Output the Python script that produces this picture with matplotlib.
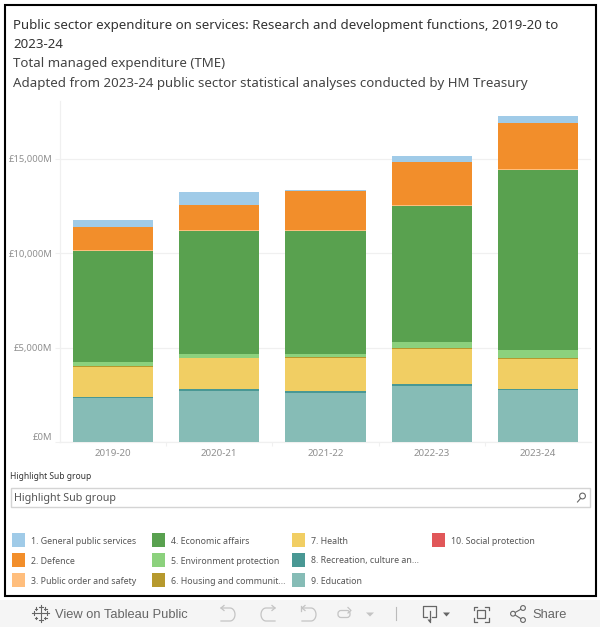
import matplotlib
matplotlib.use('Agg')
import numpy as np
import matplotlib.pyplot as plt
from matplotlib.patches import Rectangle, FancyBboxPatch

# values in GBP millions
years = ['2019-20', '2020-21', '2021-22', '2022-23', '2023-24']
education = [2340, 2690, 2590, 2960, 2750]
recreation = [55, 105, 105, 105, 55]
health = [1590, 1640, 1750, 1870, 1590]
housing = [35, 35, 35, 35, 55]
environment = [210, 175, 175, 320, 430]
economic = [5900, 6520, 6520, 7210, 9540]
public_order = [35, 55, 55, 55, 55]
defence = [1220, 1325, 2065, 2280, 2440]
general = [370, 690, 55, 320, 370]

y_ticks = [0, 5000, 10000, 15000]
y_labels = ['£0M', '£5,000M', '£10,000M', '£15,000M']

series = [
    (education, '#86bcb6'),
    (recreation, '#499894'),
    (health, '#f1ce63'),
    (housing, '#b6992d'),
    (environment, '#8cd17d'),
    (economic, '#59a14f'),
    (public_order, '#ffbe7d'),
    (defence, '#f28e2b'),
    (general, '#a0cbe8'),
]

legend_rows = [
    [('1. General public services', '#a0cbe8'), ('2. Defence', '#f28e2b'), ('3. Public order and safety', '#ffbe7d')],
    [('4. Economic affairs', '#59a14f'), ('5. Environment protection', '#8cd17d'), ('6. Housing and communit...', '#b6992d')],
    [('7. Health', '#f1ce63'), ('8. Recreation, culture an...', '#499894'), ('9. Education', '#86bcb6')],
    [('10. Social protection', '#e15759')],
]

W, H = 600, 627
plt.rcParams['font.family'] = ['Noto Sans', 'DejaVu Sans']
fig = plt.figure(figsize=(W / 100, H / 100), dpi=100, facecolor='white')

# overlay in pixel coordinates for the dashboard furniture
bg = fig.add_axes([0, 0, 1, 1], zorder=0)
bg.set_xlim(0, W)
bg.set_ylim(H, 0)
bg.axis('off')
bg.add_patch(Rectangle((0, 599.5), W, 28, fc='#f5f5f5', ec='none'))
bg.add_patch(Rectangle((4.5, 4.5), 591, 591, fc='white', ec='black', lw=1.5))

title_col = '#333333'
bg.text(13, 25.5, 'Public sector expenditure on services: Research and development functions, 2019-20 to',
        fontsize=9.55, color=title_col, va='center', weight='medium')
bg.text(13, 45, '2023-24', fontsize=9.55, color=title_col, va='center', weight='medium')
bg.text(13, 64, 'Total managed expenditure (TME)', fontsize=9.55, color='#444444', va='center')
bg.text(13, 83, 'Adapted from 2023-24 public sector statistical analyses conducted by HM Treasury',
        fontsize=9.55, color='#444444', va='center')

# chart
ax = fig.add_axes([60 / W, 1 - 442 / H, 531 / W, 341 / H], zorder=1)
ax.patch.set_alpha(0)
x = np.arange(len(years))
bottom = np.zeros(len(years))
for vals, col in series:
    ax.bar(x, vals, width=0.755, bottom=bottom, color=col, linewidth=0, zorder=3)
    bottom += np.array(vals)

ax.set_xlim(-0.5, 4.5)
ax.set_ylim(0, 18073)
ax.set_yticks(y_ticks)
ax.set_yticklabels(y_labels)
ax.set_xticks(x)
ax.set_xticklabels(years)
ax.set_xticks(np.arange(0.5, 4.5, 1), minor=True)
ax.tick_params(axis='x', which='major', length=0, labelsize=7, labelcolor='#8f8f8f', pad=5)
ax.tick_params(axis='x', which='minor', length=3, width=0.8, color='#f0f0f0')
ax.tick_params(axis='y', length=3.6, width=0.8, color='#f0f0f0', labelsize=6.8, labelcolor='#8f8f8f', pad=1.8)
ax.get_yticklabels()[0].set_verticalalignment('bottom')
ax.grid(axis='y', color='#f0f0f0', lw=0.9, zorder=0)
for side in ['top', 'right']:
    ax.spines[side].set_visible(False)
for side in ['left', 'bottom']:
    ax.spines[side].set_color('#f0f0f0')
    ax.spines[side].set_linewidth(0.9)

# filter box
bg.text(9.5, 476.5, 'Highlight Sub group', fontsize=6.1, color='#333333', va='center', weight='medium')
bg.add_patch(Rectangle((10.5, 488), 579, 18.5, fc='white', ec='#d4d4d4', lw=1))
bg.text(14, 498, 'Highlight Sub group', fontsize=7.75, color='#555555', va='center')
bg.add_patch(plt.Circle((582.5, 496), 2.9, fc='none', ec='#666666', lw=0.8))
bg.plot([580.5, 577.5], [498.5, 502], color='#666666', lw=0.8)

# legend
for c, col_items in enumerate(legend_rows):
    for r, (lab, colr) in enumerate(col_items):
        bg.add_patch(Rectangle((12 + 140 * c, 532.5 + 20 * r), 13, 14, fc=colr, ec='none'))
        bg.text(31 + 140 * c, 541 + 20 * r, lab, fontsize=6.35, color='#555555', va='center')

# toolbar
tool = '#666666'
grey = '#c4c4c4'
bar_font = ['Liberation Sans', 'DejaVu Sans']
bg.text(55, 614.5, 'View on Tableau Public', fontsize=9.3, color='#666666', va='center', family=bar_font)
bg.text(532.5, 614.5, 'Share', fontsize=9.3, color='#666666', va='center', family=bar_font)

# tableau logo, small crosses
for cx, cy, s in [(40.7, 613.3, 3.5), (34, 613.3, 2), (47.4, 613.3, 2), (40.7, 606.5, 2), (40.7, 620, 2),
                  (36, 608.5, 1.3), (45.4, 608.5, 1.3), (36, 618, 1.3), (45.4, 618, 1.3)]:
    bg.plot([cx - s, cx + s], [cy, cy], color=tool, lw=0.8)
    bg.plot([cx, cx], [cy - s, cy + s], color=tool, lw=0.8)

# undo, redo, revert (greyed out)
t = np.linspace(-np.pi / 2, np.pi / 2, 20)
for x0, d in [(221, 1), (275, -1), (302, 1)]:
    xs = np.r_[x0, x0 + d * 9, x0 + d * (9 + 5 * np.cos(t)), x0]
    ys = np.r_[608, 608, 614.5 + 6.5 * np.sin(t), 621]
    bg.plot(xs, ys, color=grey, lw=0.9)
    bg.plot([x0 + d * 3, x0, x0 + d * 3], [605.5, 608, 610.5], color=grey, lw=0.9)
bg.plot([300.7, 300.7], [606, 611], color=grey, lw=0.9)
# refresh
bg.add_patch(FancyBboxPatch((338, 610.5), 12, 7, boxstyle='round,pad=0,rounding_size=3', fc='none', ec=grey, lw=0.9))
bg.plot([348, 351, 348], [607.5, 610.5, 613], color=grey, lw=0.9)
bg.add_patch(plt.Polygon([[366, 612.5], [374, 612.5], [370, 616.5]], fc=grey, ec='none'))
bg.plot([395.7, 395.7], [607, 620], color='#bbbbbb', lw=0.8)

# download
bg.plot([427, 423, 423, 436, 436, 432], [617, 617, 606, 606, 617, 617], color=tool, lw=0.9)
bg.plot([429.5, 429.5], [611, 622], color=tool, lw=0.9)
bg.add_patch(plt.Polygon([[427.5, 619.5], [431.5, 619.5], [429.5, 622.5]], fc=tool, ec='none'))
bg.add_patch(plt.Polygon([[443, 612.5], [450, 612.5], [446.5, 616.5]], fc=tool, ec='none'))

# fullscreen
for cx, cy, sx, sy in [(473.5, 606.5, 1, 1), (488.5, 606.5, -1, 1), (473.5, 621.5, 1, -1), (488.5, 621.5, -1, -1)]:
    bg.plot([cx + 3.5 * sx, cx, cx], [cy, cy, cy + 3.5 * sy], color=tool, lw=0.9)
bg.add_patch(Rectangle((477, 610), 8, 8, fc='none', ec=tool, lw=0.9))

# share
bg.plot([523, 513, 523], [608, 613.7, 620], color=tool, lw=0.8)
for px, py in [(513, 613.7), (523, 608), (523, 620)]:
    bg.add_patch(plt.Circle((px, py), 2.4, fc='#f5f5f5', ec=tool, lw=0.8, zorder=3))

fig.savefig('out.png', dpi=100, facecolor='white')
